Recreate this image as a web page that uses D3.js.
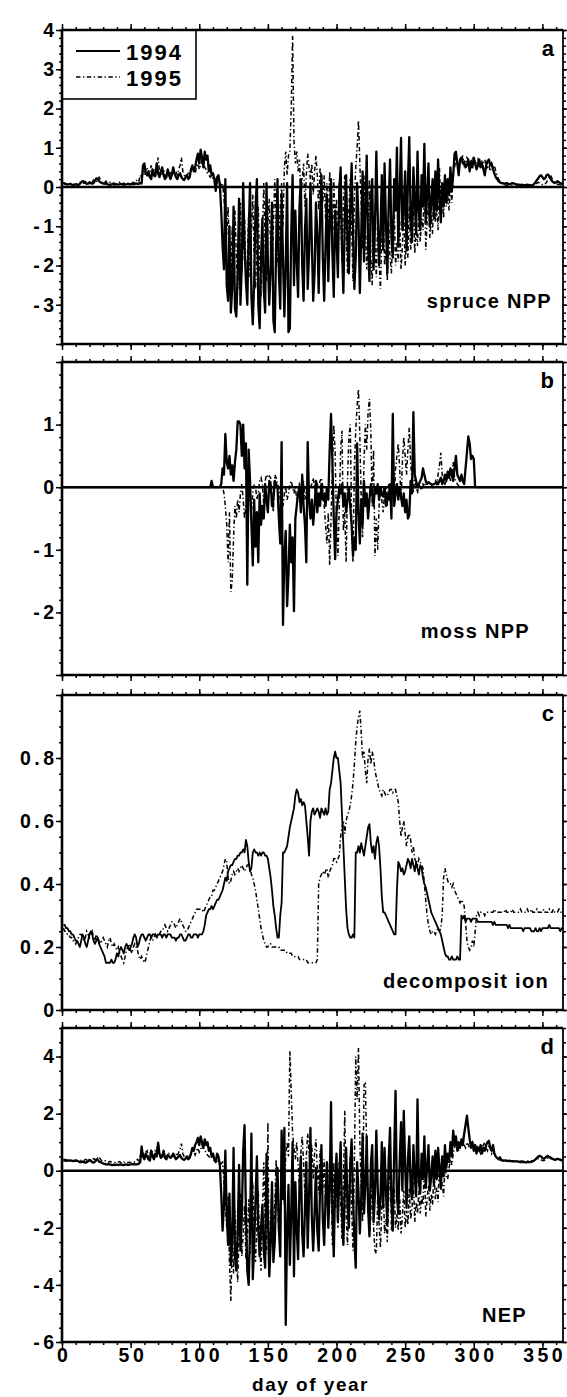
<!DOCTYPE html>
<html>
<head>
<meta charset="utf-8">
<script src="https://d3js.org/d3.v7.min.js"></script>
<style>
body { margin: 0; background: #fff; }
svg text { font-family: "Liberation Sans", Arial, sans-serif; font-weight: bold; fill: #000; }
.tick text { font-size: 19.5px; letter-spacing: 3.5px; }
</style>
</head>
<body>
<svg id="canvas" width="567" height="1397"></svg>
<script>
// one value per day of year, day 1 .. day 365

let spruce1994 = [
0.1,0.08,0.07,0.06,0.07,0.08,0.06,0.05,0.06,0.07,
0.06,0.05,0.08,0.12,0.15,0.14,0.1,0.08,0.09,0.12,
0.1,0.08,0.1,0.16,0.22,0.2,0.15,0.12,0.1,0.09,
0.08,0.1,0.07,0.06,0.05,0.07,0.08,0.06,0.06,0.07,
0.06,0.07,0.08,0.07,0.06,0.06,0.07,0.08,0.07,0.07,
0.08,0.07,0.08,0.09,0.08,0.08,0.1,0.09,0.55,0.6,
0.35,0.3,0.4,0.25,0.2,0.45,0.3,0.28,0.6,0.35,
0.25,0.4,0.5,0.3,0.2,0.25,0.45,0.3,0.2,0.3,
0.5,0.35,0.25,0.2,0.3,0.35,0.25,0.2,0.18,0.25,
0.3,0.2,0.25,0.45,0.55,0.4,0.5,0.7,0.85,0.6,
0.95,0.75,0.5,0.9,0.7,0.8,0.4,0.55,0.3,0.35,
0.2,-0.1,0.25,0.3,0.05,-0.6,-1.5,-2.1,0.2,-2.5,
-2.9,-1.0,-3.2,-2.6,-0.5,-3.1,-3.3,-2.2,-0.3,-3.0,
-2.0,0.1,-1.5,-2.4,-3.0,-1.2,0.1,-2.8,-3.5,-2.4,
-0.5,0.2,-3.0,-3.6,-1.8,-0.8,-2.6,-3.2,0.1,-1.9,
-3.0,-2.1,-0.4,-3.4,-3.7,-1.5,0.2,-2.2,-3.1,-0.2,
-1.8,-3.3,-2.0,0.1,-3.7,-3.6,-1.2,0.3,-2.5,-0.6,
-1.9,-2.8,-0.5,0.2,-2.0,-2.9,-1.1,-0.3,-2.6,-1.7,
0.1,-1.4,-2.9,-2.2,-0.4,-1.2,-2.7,-0.8,0.3,-1.8,
-2.9,-1.5,-0.2,-2.4,-1.0,0.2,-1.7,-2.8,-0.6,-1.3,
-2.3,-0.1,0.5,-1.6,-2.7,-0.9,0.3,-1.4,-2.2,-0.5,
0.6,-1.1,-2.6,-1.8,0.1,-0.8,-2.7,-1.2,0.4,-1.9,
-0.6,0.8,-1.5,-2.4,-0.3,0.2,-2.1,-1.0,0.9,-0.7,
-2.0,-1.2,0.3,-1.6,0.6,-0.9,-2.2,-0.4,0.7,-1.3,
-1.8,0.2,-0.6,1.0,-1.5,-0.2,1.25,-1.1,-0.5,0.4,
-1.6,0.1,1.27,-0.8,-1.4,0.5,-0.3,-1.2,0.9,-0.6,
-1.1,0.3,-0.5,1.1,-0.9,-0.2,0.6,-1.0,-0.4,0.2,
-0.8,0.4,-0.6,0.7,-0.3,-0.9,0.1,-0.5,0.3,-0.4,
0.2,-0.2,0.5,-0.1,0.3,0.85,0.9,0.6,0.3,0.7,
0.75,0.6,0.65,0.5,0.55,0.7,0.4,0.65,0.5,0.75,
0.6,0.45,0.55,0.7,0.5,0.6,0.45,0.3,0.55,0.65,
0.7,0.55,0.6,0.45,0.35,0.25,0.2,0.15,0.12,0.1,
0.1,0.08,0.09,0.1,0.08,0.07,0.08,0.1,0.09,0.08,
0.07,0.06,0.06,0.05,0.06,0.05,0.04,0.05,0.06,0.05,
0.05,0.04,0.05,0.08,0.12,0.18,0.22,0.28,0.3,0.25,
0.2,0.22,0.3,0.32,0.28,0.2,0.15,0.12,0.1,0.12,
0.15,0.12,0.1,0.08,0.1
]

let spruce1995 = [
0.12,0.1,0.08,0.09,0.1,0.08,0.07,0.08,0.06,0.07,
0.08,0.1,0.12,0.1,0.08,0.1,0.14,0.12,0.1,0.08,
0.1,0.12,0.18,0.15,0.12,0.2,0.25,0.18,0.12,0.1,
0.12,0.15,0.1,0.08,0.12,0.1,0.09,0.1,0.08,0.07,
0.1,0.12,0.08,0.06,0.1,0.08,0.07,0.09,0.1,0.08,
0.1,0.12,0.1,0.15,0.2,0.15,0.3,0.25,0.4,0.3,
0.45,0.5,0.3,0.35,0.55,0.4,0.3,0.5,0.45,0.75,
0.4,0.3,0.35,0.45,0.3,0.25,0.3,0.4,0.35,0.3,
0.3,0.35,0.4,0.3,0.45,0.55,0.75,0.4,0.3,0.25,
0.3,0.35,0.3,0.4,0.5,0.45,0.35,0.5,0.6,0.45,
0.55,0.7,0.6,0.5,0.45,0.35,0.3,0.25,0.3,0.2,
0.15,0.2,0.1,0.15,0.1,0.05,0.1,-0.3,-0.8,-1.2,
-0.5,-1.8,-2.4,-1.0,-2.2,-0.6,-1.7,-2.6,-1.3,-0.4,
-2.2,-1.5,-0.8,-2.5,-1.9,-0.7,-2.3,-1.1,-0.2,-1.8,
-2.6,-1.4,-0.5,-2.0,-2.8,-1.2,0.1,-1.5,-2.4,-0.9,
-0.3,-1.6,-2.2,-1.0,0.2,-0.8,-2.0,-1.5,-0.5,0.1,
-1.0,0.5,0.9,0.3,0.8,0.9,2.0,3.85,1.2,0.6,
0.9,0.4,0.7,-0.3,0.2,0.6,-0.5,0.3,0.85,0.5,
0.2,0.6,-0.2,0.4,0.8,0.3,-0.6,0.5,0.2,-0.4,
0.3,-0.8,0.1,-1.3,0.4,-0.2,-1.6,0.2,-0.9,-0.3,
-1.5,0.1,-0.7,-1.9,-0.4,0.3,-1.2,-2.2,-0.6,0.2,
-1.0,-2.4,-0.3,0.5,1.0,1.7,0.6,-0.5,-1.6,0.3,
-0.9,-2.1,-1.4,0.2,-1.8,-2.5,-0.7,-1.5,-2.3,-0.8,
-1.9,-2.6,-1.2,-0.4,-2.0,-1.6,-2.4,-0.9,-1.8,-2.2,
-1.1,-0.5,-2.0,-1.4,-1.9,-0.8,-2.1,-1.5,-0.6,-2.0,
-1.3,-1.8,-0.5,-1.6,-1.2,-0.3,-1.7,-1.0,-1.5,-0.6,
-1.4,-0.8,-1.1,0.3,-1.6,-0.9,-0.4,-1.3,-0.7,-1.2,
0.2,-0.9,-0.5,-1.1,0.5,-0.6,-0.3,-0.8,0.3,-0.5,
-0.2,-0.6,0.1,-0.4,0.4,0.5,0.7,0.6,0.4,0.65,
0.7,0.8,0.55,0.6,0.75,0.7,0.5,0.6,0.75,0.7,
0.65,0.6,0.7,0.55,0.5,0.65,0.6,0.7,0.6,0.5,
0.55,0.4,0.6,0.5,0.55,0.4,0.3,0.2,0.15,0.1,
0.08,0.06,0.05,0.04,0.05,0.06,0.05,0.04,0.05,0.06,
0.05,0.06,0.05,0.04,0.05,0.06,0.07,0.06,0.05,0.06,
0.07,0.06,0.05,0.06,0.08,0.1,0.12,0.1,0.08,0.06,
0.05,0.08,0.12,0.2,0.25,0.3,0.22,0.15,0.1,0.08,
0.07,0.06,0.05,0.06,0.05
]

let moss1994 = [
0,0,0,0,0,0,0,0,0,0,
0,0,0,0,0,0,0,0,0,0,
0,0,0,0,0,0,0,0,0,0,
0,0,0,0,0,0,0,0,0,0,
0,0,0,0,0,0,0,0,0,0,
0,0,0,0,0,0,0,0,0,0,
0,0,0,0,0,0,0,0,0,0,
0,0,0,0,0,0,0,0,0,0,
0,0,0,0,0,0,0,0,0,0,
0,0,0,0,0,0,0,0,0,0,
0,0,0,0,0,0,0,0,0.1,0,
0,0,0,0,0,0.05,0.3,0.2,0.85,0.4,
0.3,0.5,0.2,0.35,0.1,0.4,0.6,1.05,1.05,1.0,
0.5,1.0,0.3,0.7,-1.56,0.6,0.1,-0.6,-1.25,-0.2,
-0.95,-0.4,-1.2,-0.1,-0.6,-0.3,-0.5,0.05,-0.2,-0.4,
0.1,0.05,-0.3,-0.2,0.1,0.05,0.0,-0.5,-0.9,0.72,
-2.2,-1.1,-0.7,-1.9,-1.4,-0.6,-1.2,-0.8,-1.98,-0.5,
-0.3,-0.1,0.0,-0.4,0.2,-0.3,-0.6,-1.2,0.72,-0.2,
-0.5,-0.2,-0.6,-0.3,0.1,-0.4,-0.1,-0.3,0.05,-0.2,
-0.1,-0.3,0.0,-0.2,0.6,1.17,0.4,-0.5,-1.15,-0.4,
-0.2,0.0,-0.1,0.05,-0.3,-0.1,-0.4,-0.2,0.0,-0.3,
-0.6,-1.1,-0.8,-1.0,0.7,-0.4,-0.9,-0.2,-0.6,0.1,
-0.3,-0.1,-0.5,-0.2,0.05,-0.1,-0.3,0.0,-0.1,0.05,
-0.2,0.0,-0.1,-0.15,0.0,-0.3,-0.1,-0.2,0.05,-0.5,
1.17,-0.3,-0.1,0.05,-0.2,0.0,-0.15,-0.3,-0.1,-0.4,
-0.2,-0.5,-0.45,0.1,-0.1,1.2,0.2,0.1,0.0,0.05,
0.1,0.15,0.3,0.2,0.1,0.05,0.08,0.06,0.05,0.04,
0.05,0.06,0.08,0.05,0.1,0.15,0.05,0.1,0.2,0.1,
0.25,0.15,0.3,0.2,0.1,0.3,0.5,0.2,0.15,0.1,
0.2,0.1,0.05,0.3,0.55,0.81,0.7,0.45,0.5,0.45,
0,0,0,0,0,0,0,0,0,0,
0,0,0,0,0,0,0,0,0,0,
0,0,0,0,0,0,0,0,0,0,
0,0,0,0,0,0,0,0,0,0,
0,0,0,0,0,0,0,0,0,0,
0,0,0,0,0,0,0,0,0,0,
0,0,0,0,0
]

let moss1995 = [
0,0,0,0,0,0,0,0,0,0,
0,0,0,0,0,0,0,0,0,0,
0,0,0,0,0,0,0,0,0,0,
0,0,0,0,0,0,0,0,0,0,
0,0,0,0,0,0,0,0,0,0,
0,0,0,0,0,0,0,0,0,0,
0,0,0,0,0,0,0,0,0,0,
0,0,0,0,0,0,0,0,0,0,
0,0,0,0,0,0,0,0,0,0,
0,0,0,0,0,0,0,0,0,0,
0,0,0,0,0,0,0,0,0,0,
0,0,0,0,0,0,0,-0.1,-0.3,-0.6,
-1.2,-0.4,-1.67,-1.5,-0.8,-0.3,-0.5,-0.2,-0.4,-0.1,
0.05,-0.2,-0.5,-0.3,-0.1,0.0,-0.2,-0.4,-0.1,0.05,
0.0,-0.2,-0.1,0.1,0.15,0.05,-0.3,0.1,0.2,0.15,
0.18,0.15,-0.1,-0.4,0.2,0.15,0.05,0.0,-0.2,-0.1,
-0.3,-0.1,0.0,-0.2,-0.1,0.05,0.1,0.0,-0.1,0.0,
-0.2,-0.1,0.05,0.0,-0.1,0.1,-0.2,0.0,0.05,-0.1,
0.0,0.05,0.15,0.0,-0.1,0.05,0.0,0.1,0.15,0.0,
-0.3,-0.6,-0.9,-0.4,-1.25,-0.5,0.3,1.0,0.55,-0.6,
-1.1,-0.3,0.6,0.9,-0.7,-0.4,-1.2,0.1,0.8,1.0,
-0.5,-1.2,0.3,0.9,1.3,1.57,0.8,-0.2,-0.8,0.4,
1.0,0.6,1.2,1.41,0.9,-0.3,0.6,-1.1,-0.5,-1.0,
-0.3,0.0,-0.2,-0.4,-0.1,0.0,-0.3,0.05,-0.2,-0.1,
0.1,-0.2,0.3,0.5,0.7,0.3,-0.2,0.4,0.8,0.5,
0.2,0.6,0.95,0.4,0.1,-0.1,0.2,0.0,-0.1,0.05,
0.0,-0.05,0.05,0.0,0.1,0.05,0.0,0.02,0.05,0.0,
0.05,0.1,0.05,0.2,0.35,0.55,0.2,0.1,0.05,0.1,
0.15,0.25,0.1,0.2,0.4,0.15,0.1,0.05,0.02,0,
0,0,0,0,0,0,0,0,0,0,
0,0,0,0,0,0,0,0,0,0,
0,0,0,0,0,0,0,0,0,0,
0,0,0,0,0,0,0,0,0,0,
0,0,0,0,0,0,0,0,0,0,
0,0,0,0,0,0,0,0,0,0,
0,0,0,0,0,0,0,0,0,0,
0,0,0,0,0
]

let decomp1994 = [
0.27,0.27,0.26,0.26,0.25,0.25,0.24,0.24,0.23,0.22,
0.22,0.21,0.2,0.22,0.24,0.23,0.21,0.2,0.22,0.24,
0.25,0.24,0.22,0.21,0.22,0.23,0.21,0.2,0.19,0.18,
0.17,0.15,0.15,0.15,0.15,0.16,0.15,0.15,0.16,0.18,
0.17,0.19,0.2,0.19,0.18,0.2,0.21,0.2,0.19,0.2,
0.21,0.23,0.24,0.23,0.2,0.21,0.23,0.24,0.24,0.23,
0.22,0.23,0.24,0.24,0.23,0.24,0.24,0.24,0.23,0.24,
0.24,0.24,0.23,0.24,0.24,0.23,0.24,0.24,0.24,0.23,
0.23,0.23,0.22,0.23,0.23,0.24,0.24,0.23,0.22,0.22,
0.23,0.24,0.24,0.23,0.23,0.24,0.24,0.24,0.23,0.24,
0.24,0.24,0.25,0.27,0.3,0.31,0.32,0.32,0.33,0.32,
0.33,0.34,0.35,0.35,0.36,0.37,0.38,0.4,0.42,0.41,
0.44,0.45,0.46,0.46,0.47,0.48,0.48,0.49,0.49,0.5,
0.5,0.51,0.5,0.54,0.52,0.47,0.44,0.45,0.5,0.51,
0.5,0.5,0.49,0.5,0.49,0.5,0.5,0.49,0.49,0.48,
0.45,0.42,0.38,0.33,0.3,0.26,0.23,0.23,0.3,0.34,
0.5,0.5,0.51,0.52,0.55,0.58,0.6,0.62,0.64,0.68,
0.7,0.69,0.66,0.67,0.65,0.66,0.65,0.6,0.55,0.49,
0.6,0.63,0.64,0.62,0.63,0.64,0.63,0.61,0.64,0.63,
0.62,0.64,0.62,0.63,0.7,0.72,0.76,0.8,0.82,0.8,
0.8,0.76,0.72,0.62,0.52,0.42,0.32,0.26,0.24,0.23,
0.23,0.24,0.23,0.5,0.5,0.52,0.5,0.53,0.51,0.49,
0.52,0.55,0.58,0.59,0.53,0.5,0.52,0.48,0.53,0.55,
0.52,0.45,0.36,0.31,0.31,0.3,0.29,0.28,0.27,0.26,
0.25,0.24,0.24,0.38,0.47,0.46,0.44,0.45,0.43,0.44,
0.46,0.48,0.47,0.45,0.48,0.46,0.44,0.47,0.45,0.43,
0.46,0.45,0.42,0.4,0.39,0.37,0.35,0.33,0.31,0.3,
0.29,0.28,0.27,0.26,0.25,0.24,0.22,0.2,0.18,0.17,
0.17,0.16,0.16,0.17,0.16,0.16,0.16,0.17,0.16,0.16,
0.3,0.29,0.3,0.28,0.29,0.29,0.29,0.28,0.29,0.29,
0.29,0.29,0.28,0.28,0.28,0.28,0.28,0.28,0.28,0.28,
0.28,0.28,0.28,0.27,0.28,0.27,0.27,0.27,0.27,0.27,
0.27,0.27,0.27,0.27,0.26,0.27,0.26,0.26,0.26,0.26,
0.26,0.26,0.26,0.26,0.26,0.25,0.26,0.26,0.26,0.26,
0.26,0.25,0.25,0.25,0.26,0.25,0.25,0.26,0.25,0.26,
0.26,0.26,0.26,0.26,0.27,0.26,0.26,0.26,0.26,0.26,
0.26,0.26,0.25,0.26,0.26
]

let decomp1995 = [
0.26,0.25,0.25,0.24,0.24,0.23,0.23,0.22,0.22,0.21,
0.22,0.23,0.24,0.24,0.23,0.22,0.23,0.25,0.24,0.23,
0.24,0.25,0.23,0.22,0.24,0.23,0.22,0.21,0.22,0.23,
0.22,0.21,0.2,0.22,0.23,0.21,0.2,0.21,0.2,0.19,
0.2,0.18,0.17,0.16,0.15,0.17,0.19,0.2,0.21,0.19,
0.18,0.2,0.21,0.2,0.19,0.17,0.16,0.17,0.16,0.15,
0.16,0.18,0.2,0.22,0.23,0.22,0.23,0.24,0.23,0.24,
0.24,0.25,0.25,0.26,0.27,0.26,0.25,0.26,0.27,0.28,
0.28,0.27,0.26,0.27,0.28,0.29,0.28,0.27,0.26,0.25,
0.25,0.26,0.27,0.28,0.29,0.3,0.31,0.32,0.32,0.32,
0.32,0.32,0.31,0.32,0.33,0.34,0.35,0.36,0.36,0.38,
0.38,0.39,0.4,0.41,0.42,0.43,0.44,0.46,0.48,0.47,
0.42,0.4,0.41,0.43,0.44,0.43,0.44,0.45,0.44,0.45,
0.46,0.45,0.44,0.45,0.46,0.46,0.45,0.43,0.42,0.4,
0.38,0.35,0.32,0.29,0.26,0.24,0.22,0.21,0.2,0.2,
0.21,0.21,0.2,0.2,0.2,0.2,0.2,0.2,0.19,0.19,
0.19,0.19,0.19,0.18,0.18,0.18,0.18,0.17,0.17,0.17,
0.17,0.17,0.16,0.16,0.16,0.16,0.16,0.16,0.15,0.15,
0.15,0.15,0.15,0.15,0.15,0.16,0.4,0.42,0.43,0.44,
0.43,0.44,0.45,0.42,0.44,0.45,0.46,0.48,0.48,0.47,
0.48,0.49,0.55,0.58,0.6,0.56,0.6,0.62,0.63,0.65,
0.68,0.72,0.78,0.85,0.9,0.93,0.95,0.88,0.8,0.82,
0.76,0.72,0.8,0.83,0.78,0.82,0.8,0.76,0.74,0.72,
0.7,0.69,0.68,0.7,0.69,0.68,0.68,0.69,0.7,0.7,
0.69,0.7,0.7,0.68,0.66,0.6,0.55,0.58,0.6,0.56,
0.52,0.55,0.56,0.54,0.5,0.52,0.48,0.47,0.46,0.48,
0.47,0.46,0.45,0.4,0.35,0.3,0.27,0.25,0.24,0.25,
0.25,0.24,0.25,0.26,0.25,0.26,0.3,0.42,0.45,0.43,
0.41,0.4,0.4,0.39,0.4,0.38,0.37,0.36,0.35,0.34,
0.35,0.34,0.33,0.28,0.22,0.2,0.19,0.2,0.22,0.2,
0.25,0.3,0.31,0.3,0.31,0.31,0.31,0.3,0.31,0.31,
0.31,0.31,0.31,0.31,0.32,0.31,0.31,0.31,0.31,0.31,
0.31,0.31,0.32,0.31,0.31,0.31,0.31,0.32,0.31,0.31,
0.31,0.31,0.31,0.32,0.31,0.31,0.31,0.31,0.32,0.31,
0.31,0.32,0.31,0.31,0.31,0.32,0.31,0.31,0.31,0.31,
0.32,0.31,0.31,0.31,0.32,0.31,0.31,0.32,0.31,0.31,
0.31,0.32,0.31,0.31,0.32
]

let nep1994 = [
0.4,0.38,0.37,0.36,0.35,0.36,0.35,0.34,0.35,0.36,
0.35,0.33,0.3,0.3,0.32,0.3,0.28,0.3,0.33,0.38,
0.36,0.3,0.28,0.32,0.4,0.38,0.32,0.3,0.28,0.25,
0.24,0.22,0.22,0.23,0.22,0.2,0.2,0.21,0.2,0.22,
0.2,0.21,0.22,0.2,0.2,0.21,0.22,0.2,0.21,0.22,
0.22,0.23,0.22,0.22,0.23,0.25,0.3,0.85,0.5,0.4,
0.6,0.5,0.4,0.35,0.7,0.5,0.4,0.6,0.5,0.98,
0.6,0.45,0.5,0.7,0.45,0.4,0.55,0.5,0.45,0.5,
0.6,0.5,0.4,0.45,0.5,0.55,0.45,0.4,0.38,0.42,
0.5,0.4,0.45,0.6,0.8,0.7,0.9,1.0,1.15,0.9,
1.2,1.0,0.8,1.1,0.9,1.0,0.7,0.8,0.5,0.6,
0.4,0.3,0.6,0.5,0.2,-0.8,-2.1,-1.2,0.7,-1.5,
-2.6,-0.8,-3.3,-2.4,0.8,-3.0,-3.5,-2.2,0.2,-2.8,
-1.6,0.7,1.6,-1.5,-3.5,-4.0,-2.0,1.3,-3.8,-2.6,
-1.0,0.5,-2.1,-3.0,-2.0,-1.2,-2.8,-3.4,0.6,-1.5,
-3.7,-2.6,-0.4,-3.2,-2.5,-0.8,0.1,-2.0,-3.0,1.4,
-1.0,1.5,-5.4,-2.0,-0.5,-3.3,-1.5,1.0,-3.7,-0.4,
-2.0,-3.1,-0.6,0.5,-2.2,-3.0,-1.3,0.3,-2.7,-0.9,
1.5,-1.6,-2.8,-1.5,0.1,-2.1,-2.8,-0.6,0.9,-1.7,
-2.6,-1.0,0.3,-2.0,-0.7,2.4,-1.5,-3.0,-0.4,0.6,
-1.8,-0.2,1.0,-1.5,-2.6,-0.6,0.8,-1.2,-2.0,0.2,
1.1,-0.9,-2.4,-3.4,0.3,-0.7,-2.2,-1.0,1.3,-1.5,
-0.5,1.2,-1.3,-2.3,0.2,0.9,-1.8,-0.8,1.4,-0.6,
-1.7,-1.0,1.0,-1.3,0.8,-0.7,-1.9,0.4,1.5,-1.1,
-2.1,0.6,2.8,-0.9,-1.5,0.3,1.7,-0.7,2.1,0.2,
-1.3,0.4,1.2,-0.6,-1.0,0.9,-0.2,-0.9,2.5,-0.4,
-0.8,0.6,-0.3,1.2,-0.6,0.1,0.9,-0.7,-0.2,0.5,
-0.5,0.7,-0.3,0.8,0.1,-0.6,0.5,-0.2,0.9,0.1,
0.6,0.3,1.0,0.5,1.4,0.9,1.2,0.7,1.0,0.8,
1.1,0.9,1.3,1.6,1.93,1.5,1.1,0.8,1.0,0.7,
0.9,0.6,0.8,0.7,0.9,0.6,0.8,0.7,0.9,1.0,
1.05,0.8,0.7,0.9,0.6,0.5,0.45,0.4,0.47,0.38,
0.36,0.35,0.36,0.35,0.34,0.35,0.34,0.33,0.34,0.33,
0.33,0.32,0.32,0.3,0.31,0.3,0.3,0.29,0.3,0.31,
0.3,0.31,0.33,0.36,0.4,0.45,0.5,0.52,0.5,0.45,
0.42,0.45,0.5,0.52,0.48,0.44,0.42,0.4,0.38,0.4,
0.42,0.4,0.38,0.36,0.35
]

let nep1995 = [
0.35,0.34,0.33,0.35,0.36,0.34,0.33,0.32,0.33,0.34,
0.33,0.35,0.38,0.36,0.33,0.35,0.4,0.38,0.34,0.33,
0.35,0.38,0.42,0.4,0.35,0.45,0.5,0.4,0.35,0.33,
0.34,0.36,0.32,0.3,0.33,0.3,0.29,0.3,0.28,0.27,
0.3,0.32,0.28,0.26,0.3,0.28,0.27,0.29,0.3,0.28,
0.3,0.32,0.3,0.35,0.4,0.35,0.5,0.45,0.6,0.5,
0.65,0.7,0.5,0.55,0.75,0.6,0.5,0.7,0.65,1.0,
0.6,0.5,0.55,0.65,0.5,0.45,0.5,0.6,0.55,0.5,
0.5,0.55,0.6,0.5,0.65,0.75,0.95,0.6,0.5,0.45,
0.5,0.55,0.5,0.6,0.7,0.65,0.55,0.7,0.8,0.65,
0.75,0.9,0.8,0.7,0.65,0.55,0.5,0.45,0.5,0.4,
0.35,0.4,0.3,0.35,0.3,0.25,0.3,-0.4,-1.2,-2.0,
-0.9,-3.2,-4.56,-2.5,-3.6,-1.4,-2.8,-3.9,-2.2,-0.8,
-3.0,-2.2,-1.2,-3.1,-2.4,-1.0,-2.9,-1.6,-0.4,-2.3,
-3.2,-1.8,-0.7,-2.6,-3.5,-1.5,0.3,-1.9,-2.9,1.7,
-3.7,-2.0,-0.6,-2.6,-1.2,0.4,-0.9,-2.3,-1.6,-0.5,
0.2,-1.2,0.6,1.0,0.5,4.2,2.8,1.3,0.8,0.4,
1.0,0.2,-0.6,0.6,1.2,0.3,-0.9,0.5,1.3,0.6,
0.2,0.9,-0.3,0.6,1.1,0.1,-0.8,0.7,0.3,-0.6,
0.4,-1.2,0.2,-1.8,0.5,-0.4,-2.6,0.3,-1.3,-0.5,
-2.0,0.3,-1.0,-2.4,-0.6,2.1,-1.6,-2.6,-0.8,0.5,
-1.3,-2.8,0.2,4.0,2.5,4.3,1.0,-0.6,-1.8,3.0,
3.05,0.8,-1.2,-2.3,-1.6,0.4,-2.0,-2.8,-2.9,-0.9,
-1.9,-2.7,-1.3,-0.5,-2.2,-1.7,-2.5,-1.0,1.05,-2.1,
-1.2,-0.6,-2.0,-1.5,-2.1,-0.9,-2.2,-1.6,-0.7,-2.0,
-1.4,-1.9,-0.6,-1.7,-1.3,-0.4,-1.8,-1.1,-1.5,-0.7,
-1.5,-0.9,-1.2,0.2,-1.6,-1.0,-0.5,-1.4,-0.8,-1.2,
0.1,-1.0,-0.6,-1.1,0.4,-0.7,-0.4,-0.9,0.2,-0.2,
-0.3,0.1,0.4,0.2,0.6,0.8,1.0,0.9,0.7,0.9,
1.0,1.1,0.9,0.8,1.0,0.9,0.8,0.9,1.0,0.8,
0.7,0.8,0.9,0.7,0.6,0.8,0.9,1.0,0.8,0.7,
0.9,0.8,0.6,0.7,0.6,0.5,0.45,0.4,0.38,0.36,
0.35,0.34,0.33,0.34,0.33,0.32,0.33,0.34,0.33,0.32,
0.33,0.34,0.32,0.33,0.34,0.33,0.32,0.33,0.34,0.33,
0.34,0.35,0.34,0.35,0.38,0.4,0.42,0.4,0.38,0.36,
0.35,0.38,0.42,0.45,0.5,0.48,0.44,0.42,0.4,0.38,
0.4,0.42,0.4,0.38,0.4
]

let dayTicks = [0, 50, 100, 150, 200, 250, 300, 350]
let years = ['1994', '1995']

let canvas = d3.select('#canvas')

let xLeft = 62
let xRight = 563
let xScale = d3.scaleLinear().domain([0, 365]).range([xLeft, xRight])

let dashStyle = '4.5,2.5,1.3,2.5'

// layout of the four stacked panels
let panels = [
    {letter: 'a', title: 'spruce NPP', s94: spruce1994, s95: spruce1995, domain: [-4, 4], top: 30, bottom: 344,
     major: [-4, -3, -2, -1, 0, 1, 2, 3, 4], labels: [-3, -2, -1, 0, 1, 2, 3, 4], minorStep: 0.2, zero: true,
     titleX: 552, titleY: 308},
    {letter: 'b', title: 'moss NPP', s94: moss1994, s95: moss1995, domain: [-3, 2], top: 362, bottom: 675,
     major: [-3, -2, -1, 0, 1, 2], labels: [-2, -1, 0, 1], minorStep: 0.2, zero: true,
     titleX: 530, titleY: 638},
    {letter: 'c', title: 'decomposit ion', s94: decomp1994, s95: decomp1995, domain: [0, 1], top: 695, bottom: 1010,
     major: [0, 0.2, 0.4, 0.6, 0.8, 1], labels: [0, 0.2, 0.4, 0.6, 0.8], minorStep: 0.05, zero: false,
     titleX: 549, titleY: 988},
    {letter: 'd', title: 'NEP', s94: nep1994, s95: nep1995, domain: [-6, 5], top: 1028, bottom: 1342,
     major: [-6, -4, -2, 0, 2, 4], labels: [-6, -4, -2, 0, 2, 4], minorStep: 0.5, zero: true,
     titleX: 527, titleY: 1322}
]

let fmtTick = (d) => {
    if (d === 0) return '0'
    let s = Number.isInteger(d) ? String(Math.abs(d)) : Math.abs(d).toFixed(1)
    return d < 0 ? '-' + s : s
}

let cleanAxis = (g) => {
    g.select('.domain').remove()
    g.selectAll('.tick line').attr('stroke', '#000').attr('stroke-width', 1.5)
}

panels.forEach((p, idx) => {
    let yScale = d3.scaleLinear().domain(p.domain).range([p.bottom, p.top])
    let minor = d3.range(p.domain[0], p.domain[1] + 1e-9, p.minorStep).map(v => +v.toFixed(3))
    let minorDays = d3.range(0, 366, 10)
    let isLast = idx === panels.length - 1

    let g = canvas.append('g')

    // y ticks, left and right, pointing outward
    g.append('g').attr('transform', 'translate(' + xLeft + ',0)')
        .call(d3.axisLeft(yScale).tickValues(minor).tickSize(3).tickFormat(''))
        .call(cleanAxis)
    g.append('g').attr('transform', 'translate(' + xLeft + ',0)')
        .call(d3.axisLeft(yScale).tickValues(p.major).tickSize(6).tickPadding(-1.5)
            .tickFormat(d => p.labels.includes(d) ? fmtTick(d) : ''))
        .call(cleanAxis)
    g.append('g').attr('transform', 'translate(' + xRight + ',0)')
        .call(d3.axisRight(yScale).tickValues(minor).tickSize(3).tickFormat(''))
        .call(cleanAxis)
    g.append('g').attr('transform', 'translate(' + xRight + ',0)')
        .call(d3.axisRight(yScale).tickValues(p.major).tickSize(6).tickFormat(''))
        .call(cleanAxis)

    // x ticks on top and bottom edge, pointing outward
    g.append('g').attr('transform', 'translate(0,' + p.top + ')')
        .call(d3.axisTop(xScale).tickValues(minorDays).tickSize(3).tickFormat(''))
        .call(cleanAxis)
    g.append('g').attr('transform', 'translate(0,' + p.top + ')')
        .call(d3.axisTop(xScale).tickValues(dayTicks).tickSize(6).tickFormat(''))
        .call(cleanAxis)
    g.append('g').attr('transform', 'translate(0,' + p.bottom + ')')
        .call(d3.axisBottom(xScale).tickValues(minorDays).tickSize(3).tickFormat(''))
        .call(cleanAxis)
    g.append('g').attr('transform', 'translate(0,' + p.bottom + ')')
        .call(d3.axisBottom(xScale).tickValues(dayTicks).tickSize(6).tickPadding(0)
            .tickFormat(d => isLast ? d : ''))
        .call(cleanAxis)
        .call(ax => ax.selectAll('.tick text').attr('dx', '1.75'))

    // clip so the traces stay inside the frame
    canvas.append('clipPath').attr('id', 'clip' + p.letter)
        .append('rect')
        .attr('x', xLeft).attr('y', p.top)
        .attr('width', xRight - xLeft).attr('height', p.bottom - p.top)

    let line = d3.line()
        .x((v, i) => xScale(i + 1))
        .y(v => yScale(v))

    let traces = g.append('g').attr('clip-path', 'url(#clip' + p.letter + ')')

    traces.append('path')
        .attr('d', line(p.s95))
        .attr('fill', 'none')
        .attr('stroke', '#000')
        .attr('stroke-width', 1.5)
        .attr('stroke-dasharray', dashStyle)

    traces.append('path')
        .attr('d', line(p.s94))
        .attr('fill', 'none')
        .attr('stroke', '#000')
        .attr('stroke-width', p.letter === 'c' ? 1.8 : 2.3)
        .attr('stroke-linejoin', 'round')

    if (p.zero) {
        g.append('line')
            .attr('x1', xLeft).attr('x2', xRight)
            .attr('y1', yScale(0)).attr('y2', yScale(0))
            .attr('stroke', '#000').attr('stroke-width', 2.6)
    }

    // frame: heavier on the left, top and bottom
    g.append('line').attr('x1', xLeft).attr('x2', xLeft).attr('y1', p.top - 1).attr('y2', p.bottom + 1)
        .attr('stroke', '#000').attr('stroke-width', 2.6)
    g.append('line').attr('x1', xRight).attr('x2', xRight).attr('y1', p.top).attr('y2', p.bottom)
        .attr('stroke', '#000').attr('stroke-width', 1.8)
    g.append('line').attr('x1', xLeft).attr('x2', xRight).attr('y1', p.top).attr('y2', p.top)
        .attr('stroke', '#000').attr('stroke-width', 2.4)
    g.append('line').attr('x1', xLeft).attr('x2', xRight).attr('y1', p.bottom).attr('y2', p.bottom)
        .attr('stroke', '#000').attr('stroke-width', 2.4)

    g.append('text')
        .attr('x', 554).attr('y', p.top + 26)
        .attr('text-anchor', 'end')
        .style('font-size', '22px')
        .text(p.letter)

    g.append('text')
        .attr('x', p.titleX).attr('y', p.titleY)
        .attr('text-anchor', 'end')
        .style('font-size', '20px')
        .style('letter-spacing', '1.3px')
        .text(p.title)
})

// legend in panel a
let legend = canvas.append('g')
legend.append('rect')
    .attr('x', xLeft).attr('y', 30)
    .attr('width', 134).attr('height', 69)
    .attr('fill', 'none').attr('stroke', '#000').attr('stroke-width', 1.6)

years.forEach((yr, i) => {
    let ly = 51 + i * 26
    legend.append('line')
        .attr('x1', 76).attr('x2', 120)
        .attr('y1', ly).attr('y2', ly)
        .attr('stroke', '#000')
        .attr('stroke-width', i === 0 ? 2.2 : 1.5)
        .attr('stroke-dasharray', i === 0 ? null : dashStyle)
    legend.append('text')
        .attr('x', 126).attr('y', ly + 9)
        .style('font-size', '22px')
        .style('letter-spacing', '2px')
        .text(yr)
})

canvas.append('text')
    .attr('x', (xLeft + xRight) / 2 - 2)
    .attr('y', 1391)
    .attr('text-anchor', 'middle')
    .style('font-size', '19px')
    .style('letter-spacing', '1.5px')
    .text('day of year')
</script>
</body>
</html>
